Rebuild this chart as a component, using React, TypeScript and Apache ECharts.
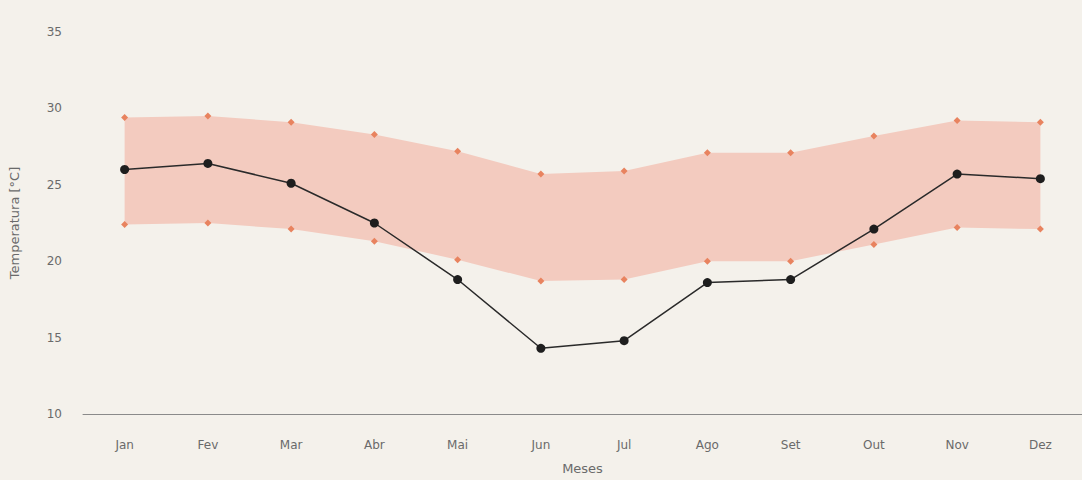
import React, { useEffect, useRef } from "react";
import * as echarts from "echarts";

const months = ["Jan", "Fev", "Mar", "Abr", "Mai", "Jun", "Jul", "Ago", "Set", "Out", "Nov", "Dez"];
const tempMax = [29.4, 29.5, 29.1, 28.3, 27.2, 25.7, 25.9, 27.1, 27.1, 28.2, 29.2, 29.1];
const tempMin = [22.4, 22.5, 22.1, 21.3, 20.1, 18.7, 18.8, 20.0, 20.0, 21.1, 22.2, 22.1];
const tempMean = [26.0, 26.4, 25.1, 22.5, 18.8, 14.3, 14.8, 18.6, 18.8, 22.1, 25.7, 25.4];

export default function App() {
  const ref = useRef<HTMLDivElement>(null);
  useEffect(() => {
    if (!ref.current) return;
    const chart = echarts.init(ref.current, null, { renderer: "svg" });
    const diff = tempMax.map((v, i) => +(v - tempMin[i]).toFixed(2));
    chart.setOption({
      animation: false,
      backgroundColor: "#f4f1eb",
      textStyle: { fontFamily: "'DejaVu Sans', sans-serif" },
      grid: { left: 83, right: -10, top: 32, bottom: 59 },
      xAxis: {
        type: "category",
        data: months,
        name: "Meses",
        nameLocation: "middle",
        nameGap: 48,
        nameTextStyle: { color: "#6a6a6a", fontSize: 13 },
        axisLine: { lineStyle: { color: "#8a8a8a", width: 1 } },
        axisTick: { show: false },
        axisLabel: { color: "#6a6a6a", fontSize: 12, margin: 25 },
      },
      yAxis: {
        type: "value",
        min: 10,
        max: 35,
        interval: 5,
        name: "Temperatura [°C]",
        nameLocation: "middle",
        nameGap: 62,
        nameTextStyle: { color: "#6a6a6a", fontSize: 13 },
        axisLine: { show: false },
        axisTick: { show: false },
        splitLine: { show: false },
        axisLabel: { color: "#6a6a6a", fontSize: 12, margin: 21 },
      },
      series: [
        {
          type: "line",
          data: tempMin,
          stack: "band",
          symbol: "diamond",
          symbolSize: 7,
          itemStyle: { color: "#e8835f" },
          lineStyle: { width: 0, opacity: 0 },
          z: 2,
        },
        {
          type: "line",
          data: diff,
          stack: "band",
          symbol: "diamond",
          symbolSize: 7,
          itemStyle: { color: "#e8835f" },
          lineStyle: { width: 0, opacity: 0 },
          areaStyle: { color: "#f3cbbf", opacity: 1 },
          z: 2,
        },
        {
          type: "line",
          data: tempMean,
          symbol: "circle",
          symbolSize: 9,
          itemStyle: { color: "#1e1e1e" },
          lineStyle: { color: "#2a2a2a", width: 1.5 },
          z: 3,
        },
      ],
    });
    return () => chart.dispose();
  }, []);
  return <div ref={ref} style={{ width: 1082, height: 480, position: "absolute", left: 0, top: 0 }} />;
}
